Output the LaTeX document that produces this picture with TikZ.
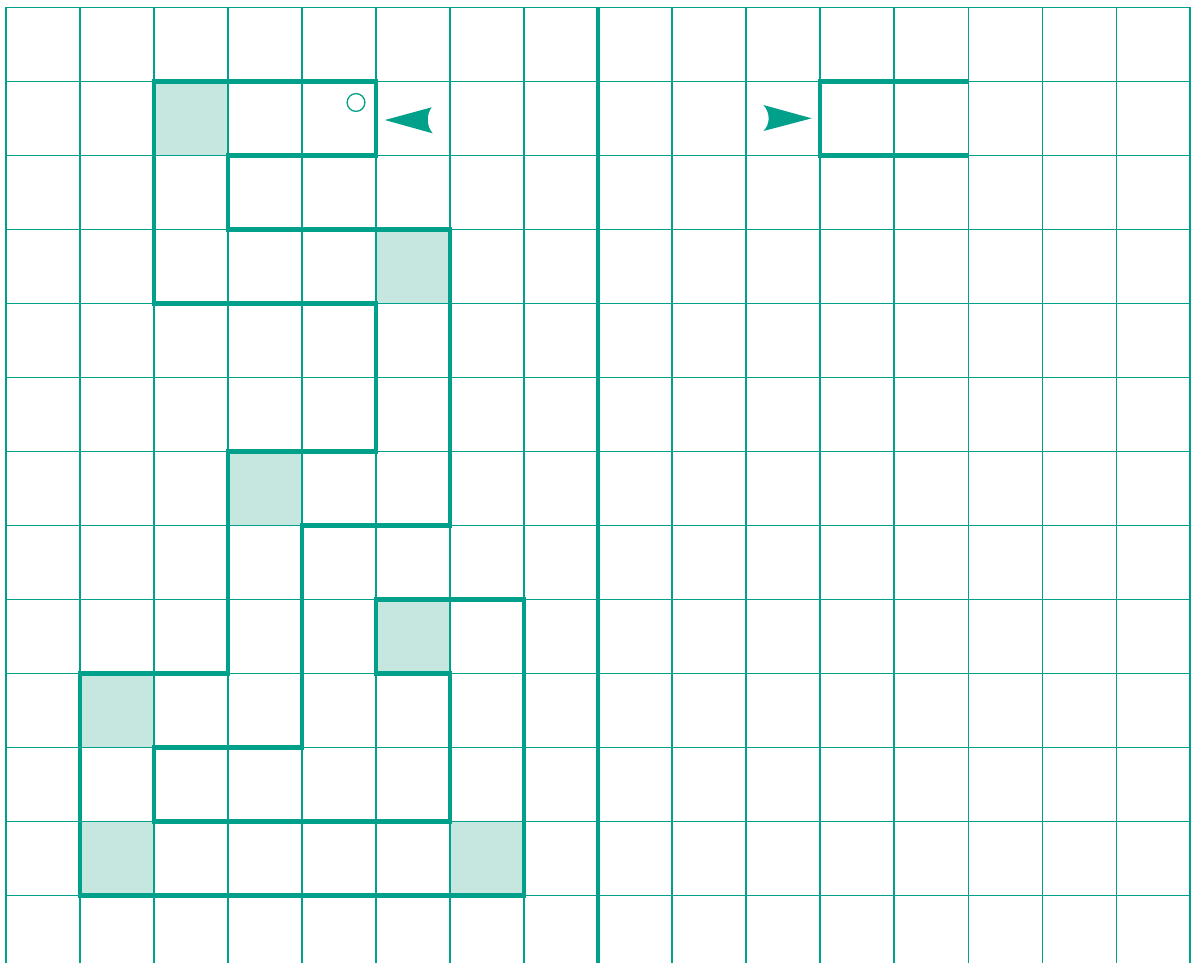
\documentclass[tikz,border=0pt]{standalone}
\usepackage{tikz}
\usetikzlibrary{calc}
\definecolor{verde}{RGB}{0,160,138}
\definecolor{claro}{RGB}{198,230,224}

\begin{document}
\begin{tikzpicture}[scale=1,
    celda/.style = {fill = claro},
    borde/.style = {draw = verde, line width = 1.9pt},
    punta/.style = {fill = verde}]
      \useasboundingbox (-0.081, 0.095) rectangle (16.027, -12.919);
      \fill[celda] (2, -1) rectangle (3, -2);
      \fill[celda] (5, -3) rectangle (6, -4);
      \fill[celda] (3, -6) rectangle (4, -7);
      \fill[celda] (5, -8) rectangle (6, -9);
      \fill[celda] (1, -9) rectangle (2, -10);
      \fill[celda] (1, -11) rectangle (2, -12);
      \fill[celda] (6, -11) rectangle (7, -12);
      \draw[verde, line width = .4pt] (0, -12.919) grid (16, 0);
      \draw[verde, line width = 1.5pt] (8, 0) -- (8, -12.919);
      \draw[borde] (2, -1) -- (5, -1) -- (5, -2) -- (3, -2) -- (3, -3) -- (6, -3) -- (6, -7)
        -- (4, -7) -- (4, -10) -- (2, -10) -- (2, -11) -- (6, -11) -- (6, -9) -- (5, -9)
        -- (5, -8) -- (7, -8) -- (7, -12) -- (1, -12) -- (1, -9) -- (3, -9) -- (3, -6)
        -- (5, -6) -- (5, -4) -- (2, -4) -- cycle;
      \draw[borde] (13, -1) -- (11, -1) -- (11, -2) -- (13, -2);
      \draw[verde, line width = .5pt] (4.73, -1.29) circle (.12);
      \fill[punta] (5.12, -1.527) -- (5.753, -1.355) .. controls (5.68, -1.45) and (5.68, -1.61) .. (5.766, -1.707) -- cycle;
      \fill[punta] (10.888, -1.504) -- (10.234, -1.324) .. controls (10.33, -1.42) and (10.33, -1.59) .. (10.234, -1.676) -- cycle;
    \end{tikzpicture}
\end{document}
